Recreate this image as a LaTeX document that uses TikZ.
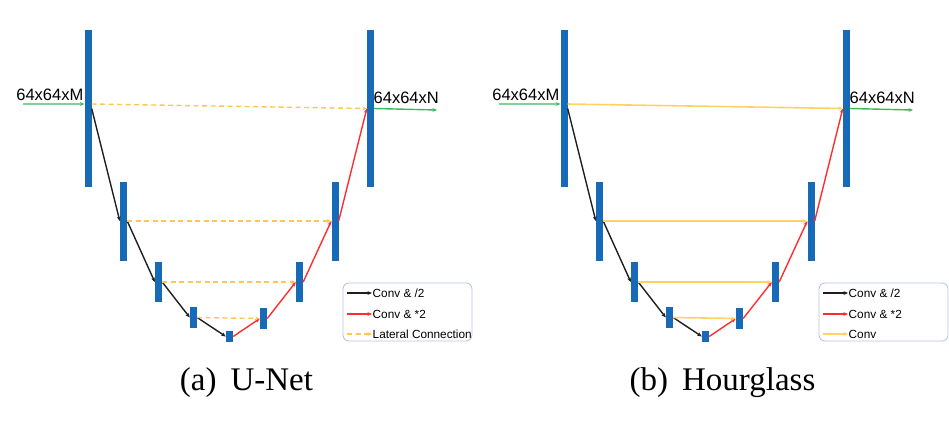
\documentclass[tikz,border=0pt]{standalone}
\usepackage{fontspec}
\setmainfont{Liberation Serif}
\newfontfamily\labfont{Liberation Sans}
\usetikzlibrary{arrows.meta}
\definecolor{barblue}{RGB}{22,106,184}
\definecolor{upred}{RGB}{255,45,45}
\definecolor{ingreen}{RGB}{60,185,90}
\definecolor{latyellow}{RGB}{255,198,80}
\definecolor{convyellow}{RGB}{255,210,105}
\definecolor{legborder}{RGB}{185,198,222}
\tikzset{
  bar/.style={fill=barblue, draw=none, inner sep=0pt, minimum width=7bp},
  tip/.style={-{Stealth[length=4.5bp,width=3.8bp]}},
  down/.style={tip, draw=black!88, line width=1.4bp},
  up/.style={tip, draw=upred, line width=1.4bp},
  io/.style={tip, draw=ingreen, line width=1.4bp},
  lateral/.style={tip, draw=latyellow, line width=1.4bp, dash pattern=on 5bp off 3.5bp},
  convlat/.style={tip, draw=convyellow, line width=1.6bp},
  dimlabel/.style={font=\labfont\fontsize{16.5bp}{18bp}\selectfont, inner sep=0pt},
  legtext/.style={font=\labfont\fontsize{11.8bp}{13bp}\selectfont, inner sep=0pt, anchor=base west},
  legbox/.style={draw=legborder, line width=0.9bp, rounded corners=6bp},
  captext/.style={font=\fontsize{33bp}{36bp}\selectfont, inner sep=0pt, anchor=base}
}
\begin{document}
\begin{tikzpicture}[x=1bp,y=-1bp]
\useasboundingbox (0,0) rectangle (949,425);
\foreach \p/\dx in {a/0,b/476}{
\begin{scope}[xshift=\dx bp]
  % bars
  \node[bar, minimum height=157bp] (\p1) at (88,108.5) {};
  \node[bar, minimum height=79bp]  (\p2) at (123.5,221) {};
  \node[bar, minimum height=40bp]  (\p3) at (158.5,282) {};
  \node[bar, minimum height=21bp]  (\p4) at (193.5,317.5) {};
  \node[bar, minimum height=11bp]  (\p5) at (229.5,336.5) {};
  \node[bar, minimum height=21bp]  (\p6) at (263.5,318.5) {};
  \node[bar, minimum height=40bp]  (\p7) at (299.5,282) {};
  \node[bar, minimum height=79bp]  (\p8) at (335,221) {};
  \node[bar, minimum height=157bp] (\p9) at (370.5,108.5) {};
  % input / output
  \coordinate (\p in) at (23,104);
  \coordinate (\p out) at (437,110);
  \draw[io] (\p in) -- ([yshift=4.5bp]\p1.west);
  \draw[io] (\p9.east) -- (\p out);
  \node[dimlabel, anchor=base east] (\p lm) at (83.5,100) {64x64xM};
  \node[dimlabel, anchor=base west] (\p ln) at (373.5,103) {64x64xN};
  % down path
  \draw[down] (\p1.east) -- (\p2.west);
  \draw[down] (\p2.east) -- (\p3.west);
  \draw[down] (\p3.east) -- (\p4.west);
  \draw[down] (\p4.east) -- (\p5.west);
  % up path
  \draw[up] (\p5.east) -- (\p6.west);
  \draw[up] (\p6.east) -- (\p7.west);
  \draw[up] (\p7.east) -- (\p8.west);
  \draw[up] (\p8.east) -- (\p9.west);
  % legend box
  \node[legbox, minimum width=129bp, minimum height=58bp, inner sep=0pt] (\p leg) at (407.5,312) {};
  \coordinate (\p l1s) at (347,293);  \coordinate (\p l1e) at (372,293);
  \coordinate (\p l2s) at (347,314);  \coordinate (\p l2e) at (372,314);
  \coordinate (\p l3s) at (347,334);  \coordinate (\p l3e) at (372,334);
  \draw[down] (\p l1s) -- (\p l1e);
  \draw[up] (\p l2s) -- (\p l2e);
  \node[legtext] (\p t1) at (372.5,297.2) {Conv \& /2};
  \node[legtext] (\p t2) at (372.5,318.2) {Conv \& *2};
\end{scope}
}
% U-Net lateral connections
\draw[lateral] ([yshift=4.5bp]a1.east) -- (a9.west);
\draw[lateral] (a2.east) -- (a8.west);
\draw[lateral] (a3.east) -- (a7.west);
\draw[lateral] (a4.east) -- (a6.west);
\draw[lateral] (al3s) -- (al3e);
\node[legtext] (at3) at (372.5,338.2) {Lateral Connection};
% Hourglass conv connections
\draw[convlat] ([yshift=4.5bp]b1.east) -- (b9.west);
\draw[convlat] (b2.east) -- (b8.west);
\draw[convlat] (b3.east) -- (b7.west);
\draw[convlat] (b4.east) -- (b6.west);
\draw[convlat] (bl3s) -- (bl3e);
\node[legtext] (bt3) at (848.5,338.2) {Conv};
% captions
\node[captext] (capa) at (246.5,390) {(a)\hspace{14bp}U-Net};
\node[captext] (capb) at (722.5,390) {(b)\hspace{14bp}Hourglass};
\end{tikzpicture}
\end{document}
